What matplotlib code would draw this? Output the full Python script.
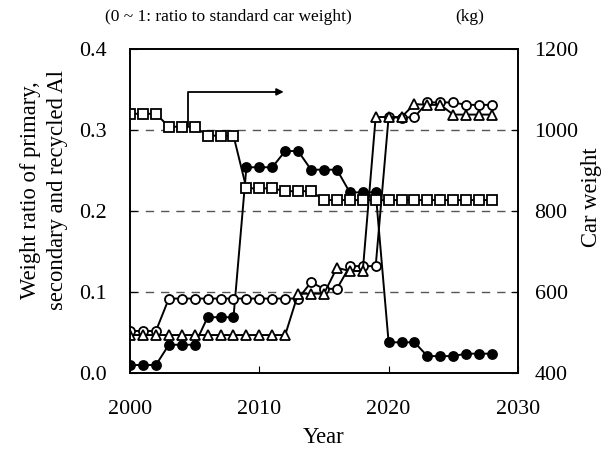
import matplotlib.pyplot as plt

plt.rcParams['font.family'] = ['Liberation Serif', 'DejaVu Serif']

years = list(range(2000, 2029))

# filled circles
primary = [0.010, 0.010, 0.010, 0.035, 0.035, 0.035, 0.069, 0.069, 0.069,
           0.254, 0.254, 0.254, 0.274, 0.274, 0.251, 0.251, 0.251,
           0.223, 0.223, 0.223, 0.038, 0.038, 0.038, 0.021, 0.021, 0.021,
           0.024, 0.024, 0.024]
# open circles
secondary = [0.052, 0.052, 0.052, 0.092, 0.092, 0.092, 0.092, 0.092, 0.092,
             0.092, 0.092, 0.092, 0.092, 0.092, 0.112, 0.104, 0.104,
             0.132, 0.132, 0.132, 0.316, 0.315, 0.316, 0.334, 0.334, 0.334,
             0.331, 0.331, 0.331]
# open triangles
recycled = [0.047, 0.047, 0.047, 0.047, 0.047, 0.047, 0.047, 0.047, 0.047,
            0.047, 0.047, 0.047, 0.047, 0.098, 0.098, 0.098, 0.130,
            0.126, 0.126, 0.316, 0.316, 0.316, 0.332, 0.331, 0.331, 0.319,
            0.319, 0.319, 0.319]
# open squares, right axis (kg)
car_weight = [1040, 1040, 1040, 1008, 1008, 1008, 986, 986, 986,
              856, 856, 856, 849, 849, 849, 827, 827, 827, 827, 827, 827,
              827, 827, 827, 827, 827, 827, 827, 827]

fig = plt.figure(figsize=(6.05, 4.49), dpi=100)
ax = fig.add_axes([0.215, 0.169, 0.641, 0.722])

style = dict(color='black', linewidth=1.4, markersize=6.5, markeredgewidth=1.3)
ax.plot(years, primary, marker='o', markerfacecolor='black', **style)
ax.plot(years, secondary, marker='o', markerfacecolor='white', **style)
ax.plot(years, recycled, marker='^', markerfacecolor='white', **style)

ax.set_xlim(2000, 2030)
ax.set_ylim(0, 0.4)
ax.set_xticks([2000, 2010, 2020, 2030])
ax.set_yticks([0.0, 0.1, 0.2, 0.3, 0.4])
ax.set_yticklabels(['0.0', '0.1', '0.2', '0.3', '0.4'])
for g in [0.1, 0.2, 0.3]:
    ax.axhline(g, color='#555555', linestyle=(0, (6, 5)), linewidth=1.0, zorder=0)
ax.tick_params(direction='in', labelsize=15.8, length=5)
ax.tick_params(axis='x', pad=19)
ax.tick_params(axis='y', pad=17)
ax.set_xlabel('Year', fontsize=16.3)
ax.xaxis.set_label_coords(0.5, -0.165)
ax.set_ylabel('Weight ratio of primary,\nsecondary and recycled Al',
              fontsize=16.3, linespacing=1.4)
ax.yaxis.set_label_coords(-0.16, 0.565)

ax2 = ax.twinx()
ax2.plot(years, car_weight, marker='s', markerfacecolor='white', **style)
ax2.set_ylim(400, 1200)
ax2.set_yticks([400, 600, 800, 1000, 1200])
ax2.tick_params(direction='in', labelsize=15.8, length=5, pad=12)
ax2.set_ylabel('Car weight', fontsize=16.3)
ax2.yaxis.set_label_coords(1.162, 0.543)

for spine in list(ax.spines.values()) + list(ax2.spines.values()):
    spine.set_linewidth(1.2)

# arrow pointing to the right axis
ax.plot([2004.5, 2004.5, 2011.5], [0.306, 0.347, 0.347], color='black', linewidth=1.3)
ax.annotate('', xy=(2012.1, 0.347), xytext=(2011.0, 0.347),
            arrowprops=dict(arrowstyle='-|>', color='black', lw=1.3,
                            mutation_scale=10))

fig.text(0.377, 0.962, '(0 ~ 1: ratio to standard car weight)', fontsize=12.5,
         ha='center', va='center')
fig.text(0.777, 0.962, '(kg)', fontsize=12.5, ha='center', va='center')

fig.savefig('out.png', dpi=100)
